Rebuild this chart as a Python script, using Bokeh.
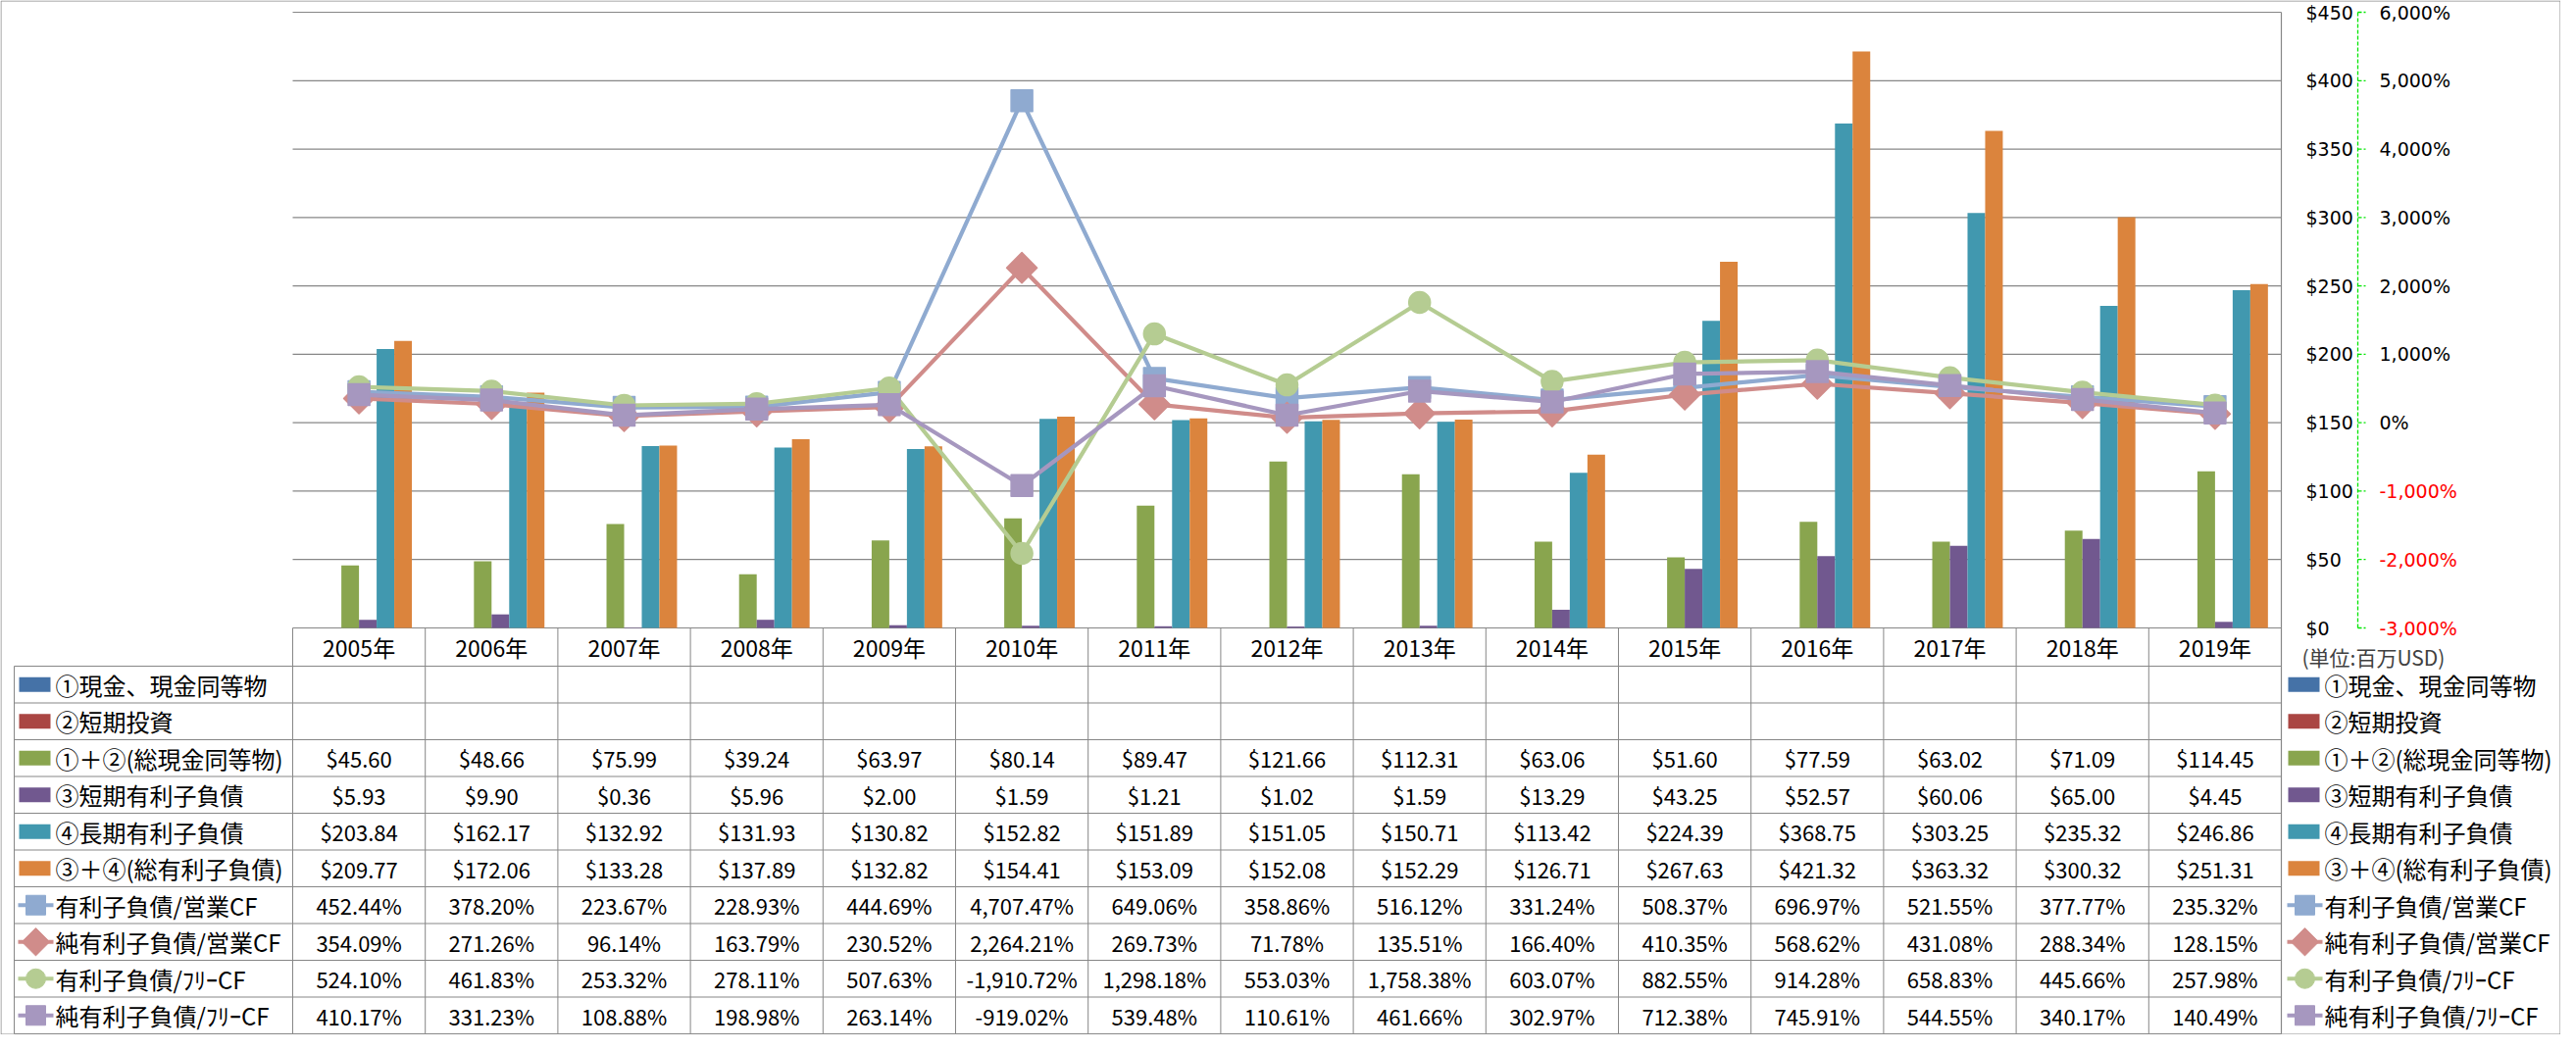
import math
from bokeh.plotting import figure
from bokeh.models import Range1d, ColumnDataSource
from bokeh.core.properties import value
from bokeh.transform import dodge
from bokeh.embed import file_html
from bokeh.resources import INLINE

# ---------------- data ----------------
years = ["2005年", "2006年", "2007年", "2008年", "2009年", "2010年", "2011年", "2012年",
         "2013年", "2014年", "2015年", "2016年", "2017年", "2018年", "2019年"]

cash_equiv = [None] * 15          # ①現金、現金同等物 (no values)
short_invest = [None] * 15        # ②短期投資 (no values)
total_cash = [45.60, 48.66, 75.99, 39.24, 63.97, 80.14, 89.47, 121.66, 112.31, 63.06,
              51.60, 77.59, 63.02, 71.09, 114.45]
short_debt = [5.93, 9.90, 0.36, 5.96, 2.00, 1.59, 1.21, 1.02, 1.59, 13.29,
              43.25, 52.57, 60.06, 65.00, 4.45]
long_debt = [203.84, 162.17, 132.92, 131.93, 130.82, 152.82, 151.89, 151.05, 150.71, 113.42,
             224.39, 368.75, 303.25, 235.32, 246.86]
total_debt = [209.77, 172.06, 133.28, 137.89, 132.82, 154.41, 153.09, 152.08, 152.29, 126.71,
              267.63, 421.32, 363.32, 300.32, 251.31]

debt_opcf = [452.44, 378.20, 223.67, 228.93, 444.69, 4707.47, 649.06, 358.86, 516.12, 331.24,
             508.37, 696.97, 521.55, 377.77, 235.32]
net_debt_opcf = [354.09, 271.26, 96.14, 163.79, 230.52, 2264.21, 269.73, 71.78, 135.51, 166.40,
                 410.35, 568.62, 431.08, 288.34, 128.15]
debt_fcf = [524.10, 461.83, 253.32, 278.11, 507.63, -1910.72, 1298.18, 553.03, 1758.38, 603.07,
            882.55, 914.28, 658.83, 445.66, 257.98]
net_debt_fcf = [410.17, 331.23, 108.88, 198.98, 263.14, -919.02, 539.48, 110.61, 461.66, 302.97,
                712.38, 745.91, 544.55, 340.17, 140.49]

bar_names = ["①現金、現金同等物", "②短期投資", "①＋②(総現金同等物)",
             "③短期有利子負債", "④長期有利子負債", "③＋④(総有利子負債)"]
line_names = ["有利子負債/営業CF", "純有利子負債/営業CF", "有利子負債/ﾌﾘｰCF", "純有利子負債/ﾌﾘｰCF"]

dollar_ticks = [0, 50, 100, 150, 200, 250, 300, 350, 400, 450]
pct_ticks = [-3000, -2000, -1000, 0, 1000, 2000, 3000, 4000, 5000, 6000]
unit_label = "(単位:百万USD)"

# ---------------- styles ----------------
bar_series = [cash_equiv, short_invest, total_cash, short_debt, long_debt, total_debt]
bar_colors = ["#4572A7", "#AA4643", "#89A54E", "#71588F", "#4198AF", "#DB843D"]
line_series = [debt_opcf, net_debt_opcf, debt_fcf, net_debt_fcf]
line_colors = ["#8FAAD0", "#D08C8A", "#B5CC92", "#A697BF"]
line_markers = ["square", "square", "circle", "square"]
line_marker_angle = [0.0, math.pi / 4, 0.0, 0.0]
line_marker_size = [22, 22, 22, 22]

FONT = value("Noto Sans CJK JP")
AXFONT = value("DejaVu Sans")
GRID = "#878787"

# ---------------- layout (figure pixels) ----------------
W, H = 2611, 1055
N = len(years)
PL, CATW = 298.0, 135.2
PR = PL + N * CATW
PT, PB = 12.0, 640.0
HB, TB = 679.0, 1054.0
NROWS = len(bar_names) + len(line_names)
ROWH = (TB - HB) / NROWS
TL = 14.0

YMAX = dollar_ticks[-1]
kY = (PB - PT) / YMAX
y0, y1 = -(H - PB) / kY, PB / kY
P0, P1 = pct_ticks[0], pct_ticks[-1]
to_pct = lambda y: P0 + y * (P1 - P0) / YMAX

p = figure(width=W, height=H, output_backend="svg", toolbar_location=None,
           x_range=Range1d(-PL / CATW, (W - PL) / CATW), y_range=Range1d(y0, y1),
           x_axis_location=None, y_axis_location=None, min_border=0,
           outline_line_color=None, background_fill_color="white", border_fill_color="white")
p.extra_x_ranges = {"px": Range1d(0, W)}
p.extra_y_ranges = {"px": Range1d(H, 0), "pct": Range1d(to_pct(y0), to_pct(y1))}
for g in p.grid:
    g.visible = False

# gridlines
p.segment(x0=0, x1=N, y0=dollar_ticks, y1=dollar_ticks, line_color=GRID, line_width=1.2)

# bars
xs = [i + 0.5 for i in range(N)]
src = {"x": xs}
for j, s in enumerate(bar_series):
    src[f"b{j}"] = [float("nan") if v is None else v for v in s]
for j, s in enumerate(line_series):
    src[f"l{j}"] = s
source = ColumnDataSource(src)

BW = 0.133
for j, s in enumerate(bar_series):
    if all(v is None for v in s):
        continue
    p.vbar(x=dodge("x", (j - 2.5) * BW, range=p.x_range), top=f"b{j}", bottom=0, width=BW,
           source=source, fill_color=bar_colors[j], line_color=None)

# lines
LW = 4.2
for j in range(len(line_series)):
    p.line(x="x", y=f"l{j}", source=source, y_range_name="pct", line_color=line_colors[j],
           line_width=LW, line_join="round", line_cap="round")
    p.scatter(x="x", y=f"l{j}", source=source, y_range_name="pct", marker=line_markers[j],
              size=line_marker_size[j], angle=line_marker_angle[j],
              fill_color=line_colors[j], line_color=line_colors[j], line_width=1.5,
              line_join="round")

# ---------------- table lines ----------------
p.segment(x0=list(range(N + 1)), x1=list(range(N + 1)), y0=PB, y1=TB,
          y_range_name="px", line_color=GRID, line_width=1)
p.segment(x0=N, x1=N, y0=PT, y1=TB, y_range_name="px", line_color=GRID, line_width=1.2)
row_y = [HB + r * ROWH for r in range(NROWS + 1)]
p.segment(x0=TL, x1=PR, y0=row_y, y1=row_y, x_range_name="px", y_range_name="px",
          line_color=GRID, line_width=1)
p.segment(x0=TL, x1=TL, y0=HB, y1=TB, x_range_name="px", y_range_name="px",
          line_color=GRID, line_width=1)
p.quad(left=0.5, right=W - 0.5, top=0.5, bottom=H - 0.5, x_range_name="px", y_range_name="px",
       fill_color=None, line_color="#8c8c8c", line_width=1)

# year header
p.text(x=xs, y=[(PB + HB) / 2] * N, text=years, y_range_name="px", text_font=FONT,
       text_font_size="23px", text_align="center", text_baseline="middle", text_color="black")

# table values
tx, ty, tt = [], [], []
all_rows = bar_series + line_series
for r, s in enumerate(all_rows):
    for i, v in enumerate(s):
        if v is None:
            continue
        tx.append(xs[i])
        ty.append(HB + (r + 0.5) * ROWH)
        tt.append(f"${v:,.2f}" if r < len(bar_series) else f"{v:,.2f}%")
p.text(x=tx, y=ty, text=tt, y_range_name="px", text_font=FONT, text_font_size="22px",
       text_align="center", text_baseline="middle", text_color="black")


def legend_block(x_left):
    names = bar_names + line_names
    cy = [HB + (r + 0.5) * ROWH for r in range(NROWS)]
    nb = len(bar_names)
    p.rect(x=[x_left + 16] * nb, y=cy[:nb], width=32, height=15, x_range_name="px",
           y_range_name="px", fill_color=bar_colors, line_color=None)
    for j in range(len(line_names)):
        yy = cy[nb + j]
        p.segment(x0=x_left - 1, x1=x_left + 35, y0=yy, y1=yy, x_range_name="px",
                  y_range_name="px", line_color=line_colors[j], line_width=LW)
        p.scatter(x=[x_left + 17], y=[yy], x_range_name="px", y_range_name="px",
                  marker=line_markers[j], size=line_marker_size[j] - 2,
                  angle=line_marker_angle[j], fill_color=line_colors[j],
                  line_color=line_colors[j])
    p.text(x=[x_left + 37] * NROWS, y=cy, text=names, x_range_name="px", y_range_name="px",
           text_font=FONT, text_font_size="24px", text_align="left", text_baseline="middle",
           text_color="black")


legend_block(TL + 5)
legend_block(PR + 7)

# ---------------- right-side axes ----------------
p.text(x=[PR + 25] * len(dollar_ticks), y=dollar_ticks, text=[f"${t:,}" for t in dollar_ticks],
       x_range_name="px", text_font=AXFONT, text_font_size="19px", text_align="left",
       text_baseline="middle", text_color="black")
AX = PR + 78
p.segment(x0=AX, x1=AX, y0=P0, y1=P1, x_range_name="px", y_range_name="pct",
          line_color="#00E600", line_width=1.3, line_dash="4 2")
p.segment(x0=AX, x1=AX + 8, y0=pct_ticks, y1=pct_ticks, x_range_name="px", y_range_name="pct",
          line_color="#00E600", line_width=1.3, line_dash="4 2")
p.text(x=[PR + 100] * len(pct_ticks), y=pct_ticks, text=[f"{t:,}%" for t in pct_ticks],
       x_range_name="px", y_range_name="pct", text_font=AXFONT, text_font_size="19px",
       text_align="left", text_baseline="middle",
       text_color=["#FF0000" if t < 0 else "black" for t in pct_ticks])
p.text(x=[PR + 21], y=[HB - 10], text=[unit_label], x_range_name="px", y_range_name="px",
       text_font=FONT, text_font_size="21px", text_align="left", text_baseline="middle",
       text_color="#404040")

open("out.html", "w").write(file_html(p, INLINE))
